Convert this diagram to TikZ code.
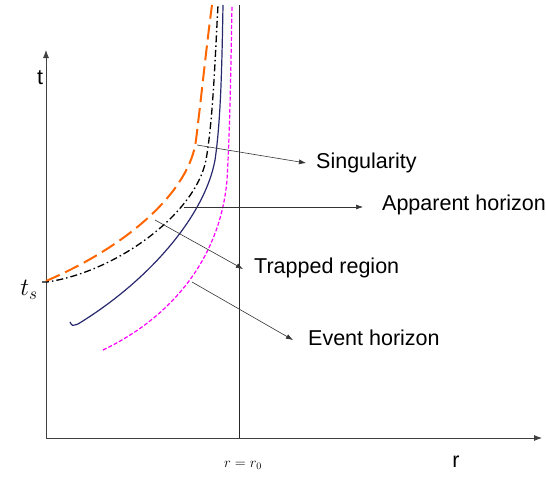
\documentclass[tikz,border=0pt]{standalone}
\usepackage{fontspec}
\setmainfont{Liberation Sans}
\usetikzlibrary{arrows.meta}
\definecolor{sorange}{RGB}{255,102,0}
\definecolor{snavy}{RGB}{40,40,110}
\definecolor{smag}{RGB}{255,0,255}
\begin{document}
\begin{tikzpicture}[x=1pt,y=-1pt,
  axis/.style={line width=0.8pt,draw=black!75,-{Latex[length=8pt,width=6pt]}},
  pointer/.style={line width=0.6pt,draw=black!80,-{Latex[length=7pt,width=5pt]}},
  lbl/.style={font=\fontsize{21.5}{23}\selectfont,anchor=west,inner sep=0pt},
  sing/.style={sorange,line width=2pt,dash pattern=on 15pt off 6pt},
  app/.style={black,line width=1.3pt,dash pattern=on 7pt off 3pt on 1.5pt off 3pt},
  trap/.style={snavy,line width=1.2pt},
  ev/.style={smag,line width=1.2pt,dash pattern=on 4pt off 2pt}]
\useasboundingbox (0,0) rectangle (546,480);
% axes
\coordinate (O) at (46,438);
\coordinate (ttip) at (46,50);
\coordinate (rtip) at (542,438);
\draw[axis] (O) -- (ttip);
\draw[axis] (O) -- (rtip);
\coordinate (r0top) at (239,5);
\coordinate (r0bot) at (239,438);
\draw[line width=0.7pt,black!85] (r0bot) -- (r0top);
% curves
\draw[sing] (46,281) .. controls (130,245) and (190,190) .. (196,140) .. controls (201,100) and (206,50) .. (212,5);
\draw[app] (42,282) -- (47,282) .. controls (115,272) and (195,215) .. (206,160) .. controls (213,120) and (215,60) .. (218,5);
\draw[trap] (70,322) .. controls (72,326) .. (78,324) .. controls (150,280) and (205,215) .. (215,160) .. controls (221,120) and (222,60) .. (223,5);
\draw[ev] (103,350) .. controls (170,318) and (220,260) .. (227,180) .. controls (230,130) and (231,60) .. (232,5);
% labels
\node[font=\fontsize{21.5}{22}\selectfont] (tlab) at (40,78) {t};
\node[font=\fontsize{21.5}{22}\selectfont] (rlab) at (456,462) {r};
\node (tslab) at (29,290) {\fontsize{26}{28}\selectfont$t_s$};
\node (r0lab) at (243,465) {\fontsize{14}{16}\selectfont$r=r_0$};
\node[lbl] (singlab) at (316,163) {Singularity};
\node[lbl] (applab) at (382,205) {Apparent horizon};
\node[lbl] (traplab) at (254,268) {Trapped region};
\node[lbl] (evlab) at (308,338) {Event horizon};
% pointer origins
\coordinate (ps) at (197,145);
\coordinate (pa) at (184,207);
\coordinate (pt) at (155,220);
\coordinate (pe) at (192,282);
\draw[pointer] (ps) -- ([xshift=-10pt]singlab.west);
\draw[pointer] (pa) -- ([xshift=-19pt]applab.west |- pa);
\draw[pointer] (pt) -- ([xshift=-11pt,yshift=-1pt]traplab.west);
\draw[pointer] (pe) -- ([xshift=-15pt,yshift=-2pt]evlab.west);
\end{tikzpicture}
\end{document}
